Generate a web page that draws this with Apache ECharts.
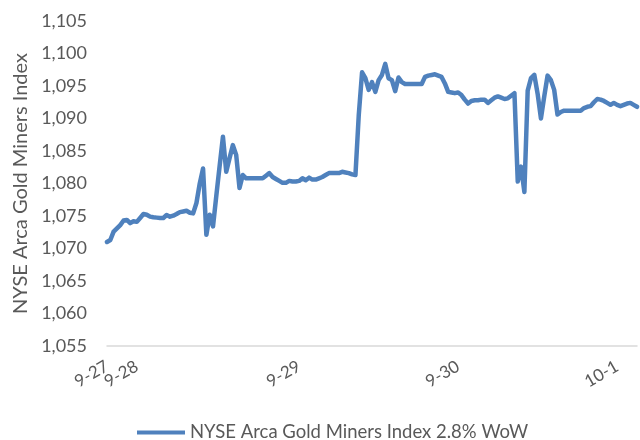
<!DOCTYPE html>
<html>
<head>
<meta charset="utf-8">
<script src="https://cdn.jsdelivr.net/npm/echarts@6/dist/echarts.min.js"></script>
<style>
html,body{margin:0;padding:0;background:#fff;}
#chart{width:640px;height:440px;}
</style>
</head>
<body>
<div id="chart"></div>
<script>
// Index values (intraday points, left to right)
const indexValues = [
  1071.0,1071.3,1072.6,1073.1,1073.6,1074.3,1074.4,1073.9,1074.2,1074.1,
  1074.7,1075.3,1075.2,1074.9,1074.8,1074.75,1074.7,1074.7,1075.15,1074.9,
  1075.05,1075.3,1075.6,1075.7,1075.8,1075.5,1075.4,1077.0,1080.0,1082.3,
  1072.1,1075.2,1073.4,1078.1,1082.7,1087.2,1081.8,1083.9,1085.9,1084.4,
  1079.3,1081.3,1080.8,1080.8,1080.8,1080.8,1080.8,1080.8,1081.2,1081.6,
  1081.0,1080.7,1080.4,1080.1,1080.1,1080.4,1080.3,1080.3,1080.4,1080.8,
  1080.5,1080.9,1080.6,1080.6,1080.8,1081.0,1081.3,1081.6,1081.6,1081.6,
  1081.6,1081.8,1081.7,1081.6,1081.4,1081.3,1090.5,1097.1,1096.2,1094.4,
  1095.6,1094.1,1095.9,1096.7,1098.4,1096.2,1095.9,1094.2,1096.3,1095.6,
  1095.3,1095.3,1095.3,1095.3,1095.3,1095.3,1096.4,1096.6,1096.7,1096.8,
  1096.6,1096.4,1095.4,1094.1,1094.0,1093.9,1094.0,1093.6,1092.9,1092.3,
  1092.7,1092.8,1092.8,1092.9,1092.9,1092.4,1092.8,1093.2,1093.4,1093.2,
  1093.0,1093.1,1093.5,1093.9,1080.3,1082.6,1078.7,1094.3,1096.2,1096.7,
  1093.8,1090.0,1093.4,1096.6,1095.9,1094.4,1090.6,1091.0,1091.2,1091.2,
  1091.2,1091.2,1091.2,1091.2,1091.6,1091.8,1091.9,1092.5,1093.0,1092.9,
  1092.7,1092.4,1092.1,1092.4,1092.1,1091.9,1092.1,1092.3,1092.4,1092.1,
  1091.8
];
// Date tick labels and the point index where each date begins
const tickLabels = ['9-27', '9-28', '9-29', '9-30', '10-1'];
const tickIndex = [0, 9, 58, 106, 154];
const seriesName = 'NYSE Arca Gold Miners Index 2.8% WoW';
const yAxisTitle = 'NYSE Arca Gold Miners Index';

const categories = indexValues.map((_, i) => {
  const k = tickIndex.indexOf(i);
  return k >= 0 ? tickLabels[k] : String(i);
});

const font = 'Lato';
const grey = '#595959';

// labels on the main axis: all but the first; the first sits on an overlay axis
const mainLabelIdx = tickIndex.slice(1);
const firstLabelIdx = tickIndex.slice(0, 1);

function makeXAxis(showIdx, showLine) {
  return {
    type: 'category',
    position: 'bottom',
    offset: 0,
    data: categories,
    boundaryGap: false,
    axisLine: {show: showLine, lineStyle: {color: '#d9d9d9', width: 1.5}},
    axisTick: {show: false},
    splitLine: {show: false},
    axisLabel: {
      interval: (index) => showIdx.indexOf(index) >= 0,
      formatter: (val) => (tickLabels.indexOf(val) >= 0 ? val : ''),
      showMinLabel: true, showMaxLabel: true, hideOverlap: false,
      rotate: 30, margin: 19,
      color: grey, fontFamily: font, fontSize: 17
    }
  };
}

const chart = echarts.init(document.getElementById('chart'), null, {renderer: 'canvas'});
chart.setOption({
  animation: false,
  backgroundColor: '#ffffff',
  grid: {left: 107, right: 3, top: 21, bottom: 94, containLabel: false},
  legend: {
    data: [seriesName],
    left: 137, top: 423, padding: 0,
    icon: 'rect', itemWidth: 48, itemHeight: 4,
    textStyle: {color: grey, fontFamily: font, fontSize: 18.5}
  },
  xAxis: [makeXAxis(mainLabelIdx, true), makeXAxis(firstLabelIdx, false)],
  yAxis: {
    type: 'value',
    min: 1055, max: 1105, interval: 5,
    name: yAxisTitle,
    nameLocation: 'middle',
    nameGap: 75,
    nameTextStyle: {color: grey, fontFamily: font, fontSize: 20},
    axisLine: {show: false},
    axisTick: {show: false},
    splitLine: {show: false},
    axisLabel: {
      margin: 20, color: grey, fontFamily: font, fontSize: 18,
      formatter: (v) => v.toLocaleString('en-US')
    }
  },
  series: [{
    name: seriesName,
    type: 'line',
    xAxisIndex: 0,
    data: indexValues,
    symbol: 'none',
    lineStyle: {color: '#4F81BD', width: 4.5, cap: 'round', join: 'round'},
    itemStyle: {color: '#4F81BD'}
  }]
});
</script>
</body>
</html>
